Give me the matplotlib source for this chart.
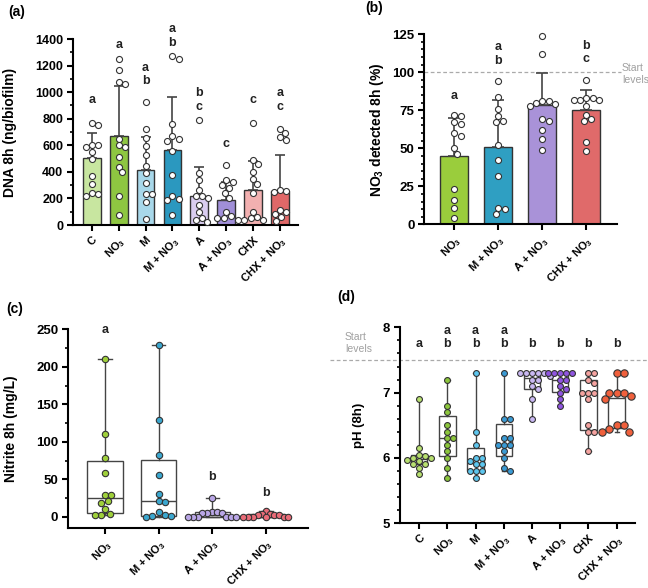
import numpy as np
import matplotlib
matplotlib.use("Agg")
import matplotlib.pyplot as plt
from matplotlib.transforms import blended_transform_factory

plt.rcParams['font.family'] = ['Liberation Sans', 'DejaVu Sans']
plt.rcParams['font.weight'] = 'bold'
plt.rcParams['axes.labelweight'] = 'bold'
plt.rcParams['mathtext.fontset'] = 'custom'
plt.rcParams['mathtext.rm'] = 'Liberation Sans:bold'
plt.rcParams['mathtext.it'] = 'Liberation Sans:bold:italic'
plt.rcParams['mathtext.bf'] = 'Liberation Sans:bold'

# ---- data ----
groups8 = ['C', 'NO$_3$', 'M', 'M + NO$_3$', 'A', 'A + NO$_3$', 'CHX', 'CHX + NO$_3$']
groups4 = ['NO$_3$', 'M + NO$_3$', 'A + NO$_3$', 'CHX + NO$_3$']

# (a) DNA 8h
dna_mean = [505, 670, 415, 565, 215, 185, 260, 255]
dna_sd = [190, 380, 245, 395, 220, 135, 225, 275]
dna_points = [
    [770, 750, 600, 600, 590, 550, 500, 370, 310, 240, 230, 215],
    [1250, 1165, 1080, 1065, 650, 600, 590, 515, 440, 400, 215, 75],
    [925, 720, 655, 595, 525, 445, 390, 315, 235, 230, 175, 45],
    [1270, 1250, 760, 670, 650, 635, 555, 375, 220, 195, 190, 75],
    [790, 390, 335, 265, 220, 215, 200, 150, 100, 55, 40, 25],
    [450, 340, 320, 300, 280, 240, 200, 100, 65, 55, 50, 40],
    [765, 490, 460, 400, 350, 310, 240, 100, 60, 50, 40, 40],
    [720, 690, 660, 640, 260, 255, 250, 110, 100, 80, 60, 30],
]
dna_letters = ['a', 'a', 'a\nb', 'a\nb', 'b\nc', 'c', 'c', 'a\nc']
dna_letter_y = [943, 1357, 1081, 1370, 888, 612, 943, 888]
dna_colors = ['#c8e6a0', '#8ec641', '#a8d8ea', '#2b98bf', '#d9cdf0', '#a08fd8', '#f2b0b0', '#e06868']

# (b) NO3 detected 8h
no3_mean = [45, 51, 78.5, 75.5]
no3_sd = [25, 31, 21, 13]
no3_points = [
    [72, 71, 67, 66, 60, 58, 50, 46, 23, 16, 11, 4],
    [94, 84, 76, 71, 68, 67, 52, 42, 32, 11, 10, 7],
    [124, 112, 81, 81, 80, 79, 78, 69, 68, 62, 56, 49],
    [95, 83, 83, 82, 82, 82, 78, 72, 69, 68, 54, 48],
]
no3_letters = ['a', 'a\nb', 'c', 'b\nc']
no3_letter_y = [84.6, 107.4, 135, 108.5]
no3_colors = ['#9acd3c', '#2f9fc2', '#a992d8', '#e06a6a']

# (c) Nitrite 8h
nitrite_points = [
    [210, 111, 79, 58, 29, 29, 21, 19, 10, 4, 3, 3],
    [229, 129, 83, 56, 31, 21, 20, 6, 2, 1, 1, 0],
    [25, 6, 6, 5, 5, 5, 0, 0, 0, 0, 0, 0],
    [8, 4, 4, 3, 3, 2, 0, 0, 0, 0, 0, 0],
]
nitrite_letters = ['a', 'a', 'b', 'b']
nitrite_letter_y = [249, 267, 52.6, 32]
nitrite_colors = ['#9fd03a', '#3ba7cf', '#b9a6e6', '#ea6c78']

# (d) pH 8h
ph_points = [
    [6.9, 6.15, 6.05, 6.03, 6.0, 6.0, 5.97, 5.95, 5.9, 5.9, 5.85, 5.75],
    [7.2, 6.8, 6.7, 6.5, 6.4, 6.3, 6.3, 6.2, 6.1, 6.0, 5.85, 5.7],
    [7.3, 6.4, 6.2, 6.0, 6.0, 5.95, 5.9, 5.9, 5.8, 5.8, 5.8, 5.7],
    [7.3, 6.6, 6.6, 6.3, 6.3, 6.2, 6.2, 6.2, 6.1, 6.0, 5.85, 5.8],
    [7.3, 7.3, 7.3, 7.3, 7.3, 7.25, 7.2, 7.2, 7.1, 7.05, 6.9, 6.6],
    [7.3, 7.3, 7.3, 7.3, 7.3, 7.2, 7.2, 7.1, 7.05, 7.0, 6.9, 6.8],
    [7.3, 7.3, 7.2, 7.15, 7.0, 7.0, 7.0, 6.9, 6.5, 6.4, 6.4, 6.1],
    [7.3, 7.3, 7.0, 7.0, 7.0, 6.95, 6.9, 6.5, 6.5, 6.45, 6.4, 6.4],
]
ph_letters = ['a', 'a\nb', 'a\nb', 'a\nb', 'b', 'b', 'b', 'b']
ph_letter_y = 7.74
ph_colors = ['#b8e070', '#8cc63c', '#5dc6ee', '#3a9bd5', '#c9b8f2', '#9055e0', '#f5a3a0', '#f0603c']

DARK = '#333333'
W, H = 648, 588

fig = plt.figure(figsize=(W / 100, H / 100), dpi=100)


def px_axes(left, top, right, bottom):
    return fig.add_axes([left / W, 1 - bottom / H, (right - left) / W, (bottom - top) / H])


def style(ax, labels, ysize):
    for s in ['top', 'right']:
        ax.spines[s].set_visible(False)
    for s in ['left', 'bottom']:
        ax.spines[s].set_linewidth(1.5)
    ax.tick_params(axis='both', which='major', width=1.5, length=4, labelsize=ysize, pad=3)
    ax.tick_params(axis='y', which='minor', width=1.2, length=2.5)
    ax.set_xticks(range(len(labels)))
    ax.set_xticklabels(labels, rotation=45, ha='right', rotation_mode='anchor', fontsize=8)
    for t in ax.get_yticklabels():
        t.set_fontweight('bold')


def swarm(ax, x0, values, diam):
    # simple beeswarm: offsets in pixel space, returned in data units
    tr = ax.transData
    vals = np.asarray(values, float)
    ys = tr.transform(np.column_stack([np.zeros(len(vals)), vals]))[:, 1]
    ppu = tr.transform([[1, 0]])[0, 0] - tr.transform([[0, 0]])[0, 0]
    offs = np.zeros(len(vals))
    placed = []
    step = diam * 0.2
    for i in np.argsort(-ys):
        k = 0
        while True:
            cands = [0.0] if k == 0 else [k * step, -k * step]
            ok = None
            for c in cands:
                if all((c - px) ** 2 + (ys[i] - py) ** 2 >= diam ** 2 for px, py in placed):
                    ok = c
                    break
            if ok is not None:
                offs[i] = ok
                placed.append((ok, ys[i]))
                break
            k += 1
    return x0 + offs / ppu


def letters(ax, x, y, text):
    for j, ch in enumerate(reversed(text.split('\n'))):
        ax.annotate(ch, (x, y), xytext=(0, j * 9.8), textcoords='offset points',
                    ha='center', va='center', fontsize=9, fontweight='bold', color='#222222')


# ---- (a) ----
ax = px_axes(73, 39, 298, 225)
ax.set_xlim(-0.7, 7.67)
ax.set_ylim(0, 1400)
ax.set_yticks(range(0, 1401, 200))
ax.set_yticks(range(0, 1401, 100), minor=True)
style(ax, groups8, 9)
x = np.arange(8)
ax.bar(x, dna_mean, width=0.66, color=dna_colors, edgecolor=DARK, linewidth=1, zorder=2)
ax.errorbar(x, dna_mean, yerr=[np.zeros(8), dna_sd], fmt='none', ecolor='#444444',
            elinewidth=1.2, capsize=3.6, capthick=1.2, zorder=3)
for i, pts in enumerate(dna_points):
    ax.scatter(swarm(ax, i, pts, 6.3), pts, s=19, facecolor='white', edgecolor=DARK,
               linewidth=0.8, zorder=4, clip_on=False)
    letters(ax, i, dna_letter_y[i], dna_letters[i])
ax.set_ylabel('DNA 8h (ng/biofilm)', fontsize=10, labelpad=13)

# ---- (b) ----
ax = px_axes(424.3, 34.3, 617, 224.3)
ax.set_xlim(-0.68, 3.7)
ax.set_ylim(0, 125)
ax.set_yticks(range(0, 126, 25))
ax.set_yticks(range(0, 126, 5), minor=True)
style(ax, groups4, 9.5)
x = np.arange(4)
tb = blended_transform_factory(ax.transAxes, ax.transData)
ax.plot([0, 1.02], [100, 100], transform=tb, color='#aaaaaa', lw=0.9, ls=(0, (3, 2)),
        clip_on=False, zorder=1)
ax.text(1.026, 98.9, 'Start\nlevels', transform=tb, ha='left', va='center', fontsize=7.5,
        fontweight='normal', color='#a0a0a0', linespacing=1.3)
ax.bar(x, no3_mean, width=0.64, color=no3_colors, edgecolor=DARK, linewidth=1, zorder=2)
ax.errorbar(x, no3_mean, yerr=[np.zeros(4), no3_sd], fmt='none', ecolor='#444444',
            elinewidth=1.2, capsize=4.5, capthick=1.2, zorder=3)
for i, pts in enumerate(no3_points):
    ax.scatter(swarm(ax, i, pts, 6.3), pts, s=19, facecolor='white', edgecolor=DARK,
               linewidth=0.8, zorder=4, clip_on=False)
    letters(ax, i, no3_letter_y[i], no3_letters[i])
ax.set_ylabel('NO$_3$ detected 8h (%)', fontsize=10, labelpad=5)


def boxes(ax, data, colors, width, capw, diam, sizes):
    stats = []
    for pts in data:
        q1, med, q3 = np.percentile(pts, [25, 50, 75], method='weibull')
        stats.append(dict(med=med, q1=q1, q3=q3, whislo=min(pts), whishi=max(pts), fliers=[]))
    ax.bxp(stats, positions=range(len(data)), widths=width, capwidths=capw, showfliers=False,
           patch_artist=True, manage_ticks=False,
           boxprops=dict(facecolor='white', edgecolor='#444444', linewidth=1),
           whiskerprops=dict(color='#444444', linewidth=1),
           capprops=dict(color='#444444', linewidth=1),
           medianprops=dict(color='#444444', linewidth=1), zorder=2)
    for i, pts in enumerate(data):
        ax.scatter(swarm(ax, i, pts, diam[i]), pts, s=sizes[i], facecolor=colors[i],
                   edgecolor=DARK, linewidth=0.8, zorder=4, clip_on=False)


# ---- (c) ----
ax = px_axes(68, 329.3, 308, 528)
ax.set_xlim(-0.69, 3.78)
ax.set_ylim(-15, 250)
ax.set_yticks(range(0, 251, 50))
ax.set_yticks(range(0, 251, 25), minor=True)
style(ax, groups4, 9.5)
boxes(ax, nitrite_points, nitrite_colors, 0.66, 0.25, [6.3, 6.3, 5.0, 4.6], [21] * 4)
for i in range(4):
    letters(ax, i, nitrite_letter_y[i], nitrite_letters[i])
ax.set_ylabel('Nitrite 8h (mg/L)', fontsize=10, labelpad=13)

# ---- (d) ----
ax = px_axes(400, 327.3, 635, 523.3)
ax.set_xlim(-0.68, 7.65)
ax.set_ylim(5, 8)
ax.set_yticks([5, 6, 7, 8])
ax.set_yticks(np.arange(5, 8.01, 0.2), minor=True)
style(ax, groups8, 9.5)
tb = blended_transform_factory(ax.transAxes, ax.transData)
ax.plot([-0.3, 1.06], [7.5, 7.5], transform=tb, color='#aaaaaa', lw=0.9, ls=(0, (3, 2)),
        clip_on=False, zorder=1)
ax.text(-0.234, 7.76, 'Start\nlevels', transform=tb, ha='left', va='center', fontsize=7.5,
        fontweight='normal', color='#a0a0a0', linespacing=1.3)
boxes(ax, ph_points, ph_colors, 0.58, 0.15, [6.0] * 7 + [7.4], [18] * 7 + [28])
for i in range(8):
    letters(ax, i, ph_letter_y, ph_letters[i])
ax.set_ylabel('pH (8h)', fontsize=9.5, labelpad=13)

# panel labels
for lab, px, py in [('(a)', 8, 12), ('(b)', 365, 8), ('(c)', 6, 309), ('(d)', 337, 297)]:
    fig.text(px / W, 1 - py / H, lab, ha='left', va='center', fontsize=10, fontweight='bold')

fig.savefig('out.png', dpi=100)
